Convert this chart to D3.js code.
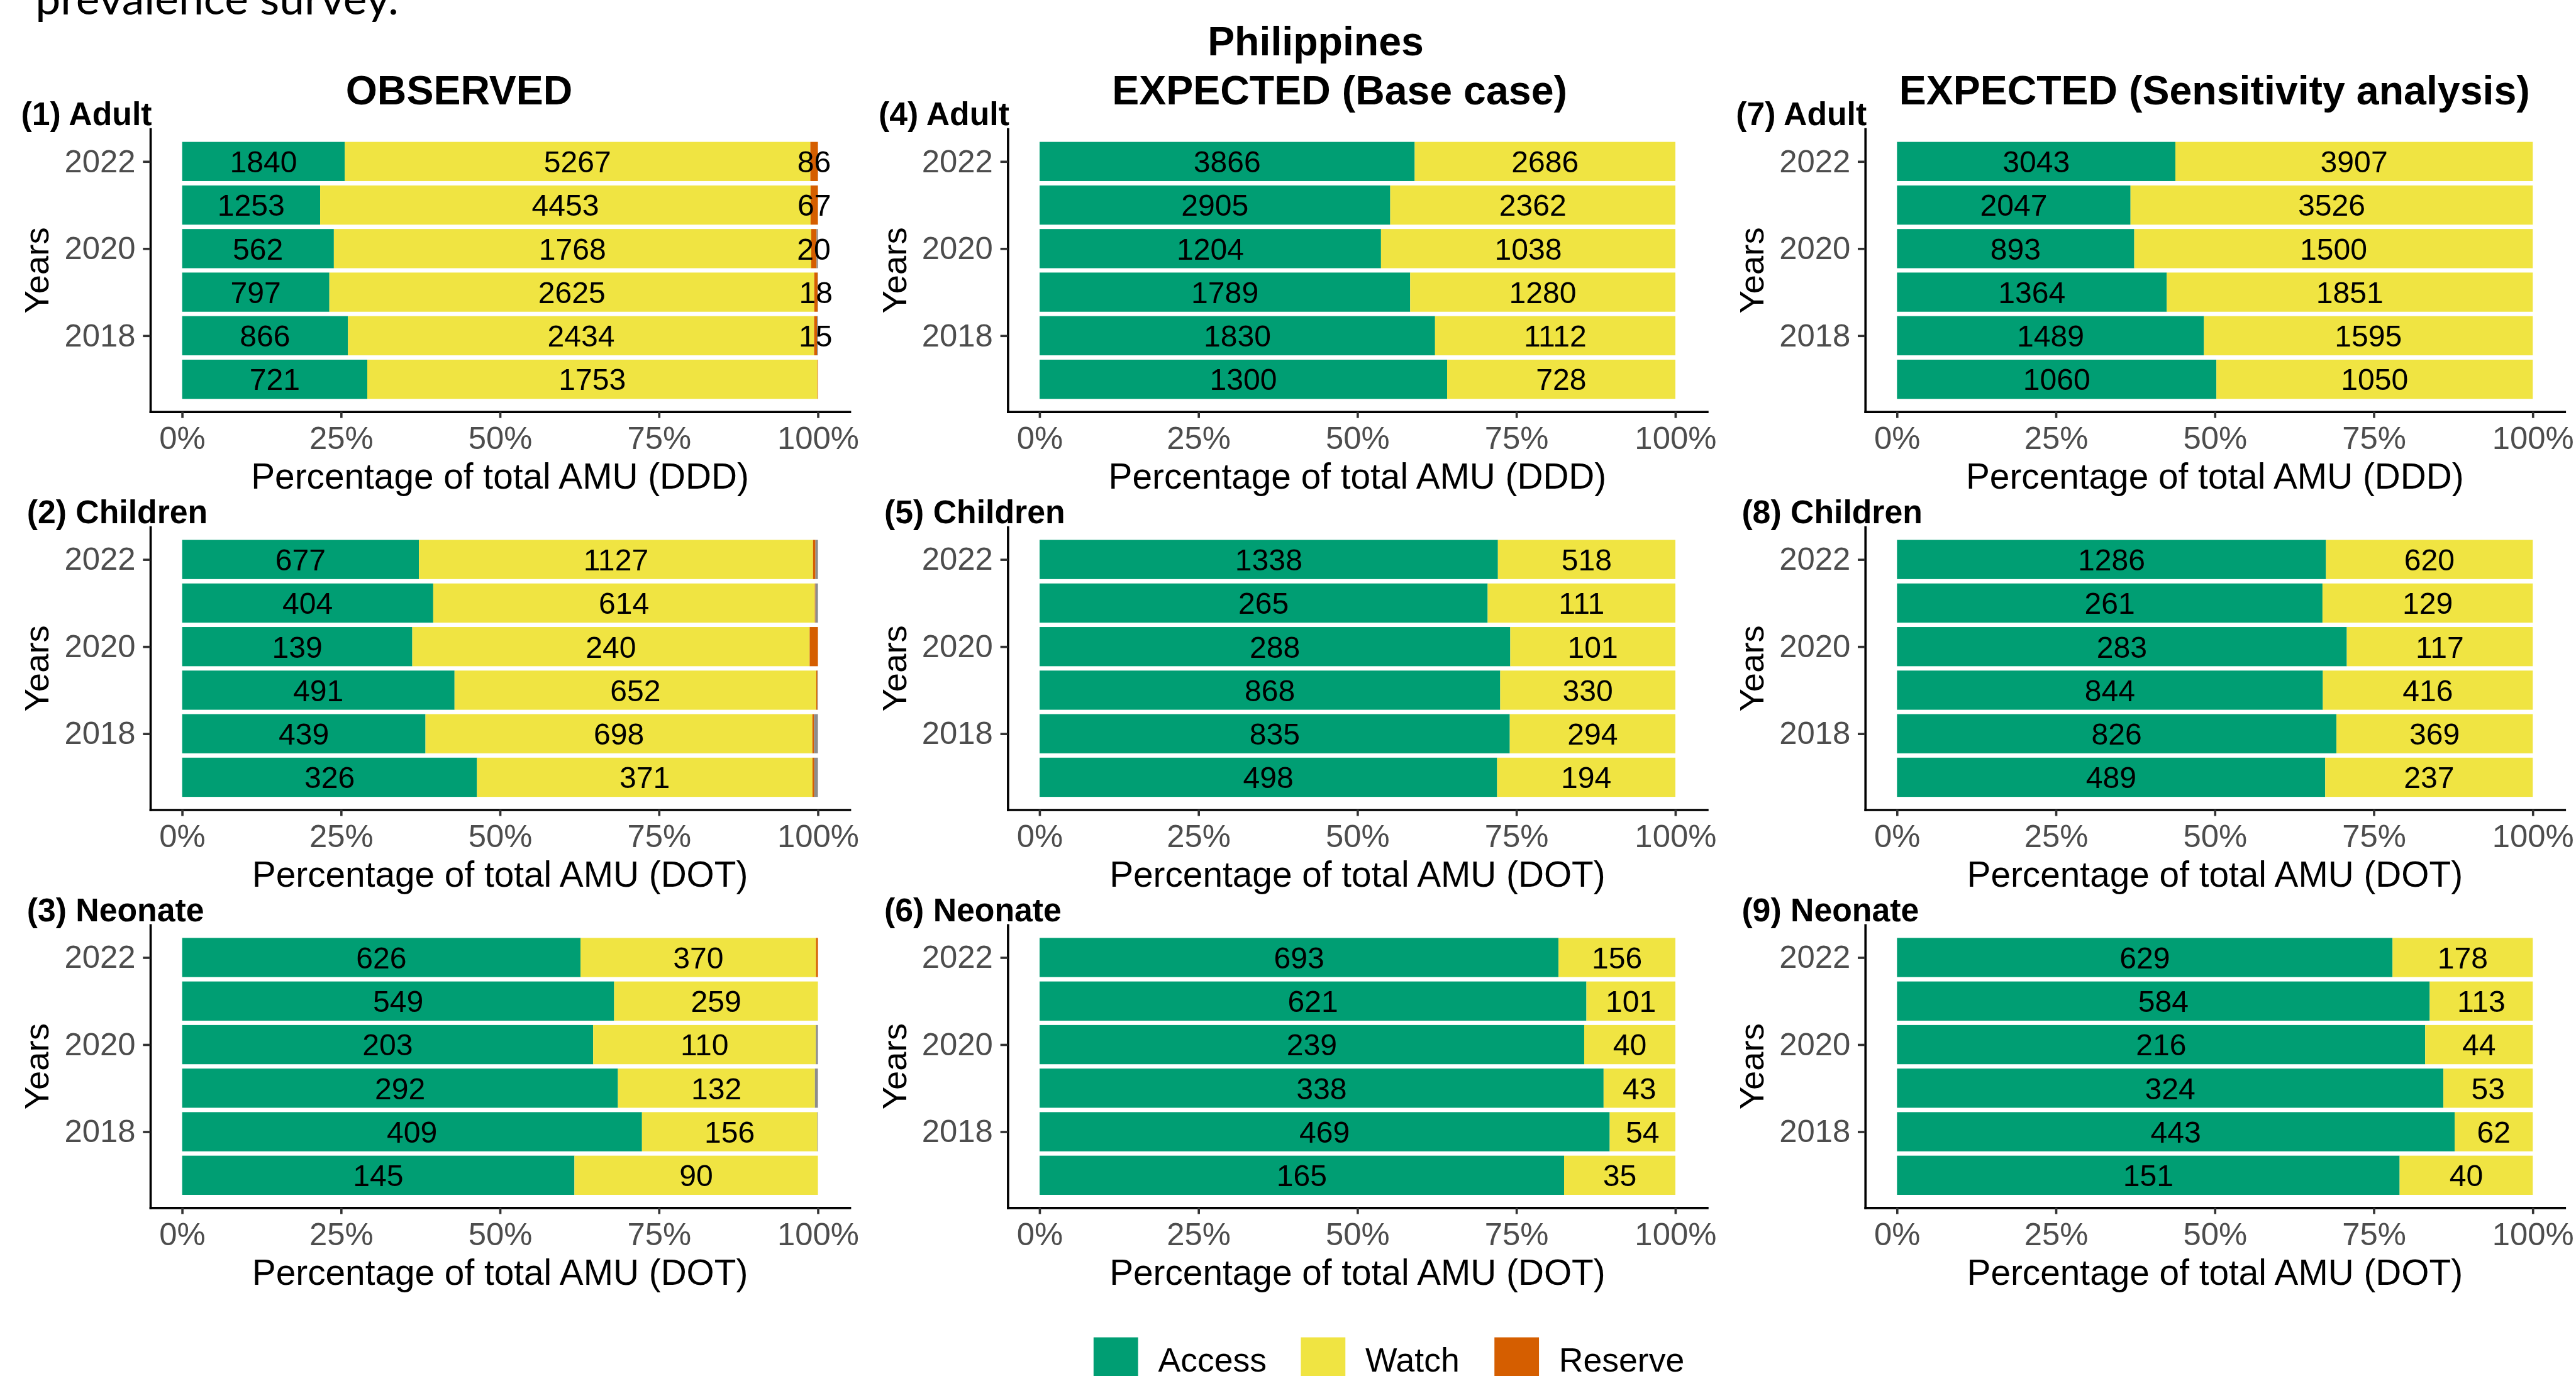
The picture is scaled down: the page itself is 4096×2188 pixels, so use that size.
<!DOCTYPE html>
<html>
<head>
<meta charset="utf-8">
<script src="https://cdn.jsdelivr.net/npm/d3@7"></script>
<style>
  body { margin: 0; background: #fff; }
  svg { display: block; }
  text { font-family: "Liberation Sans", Arial, Helvetica, sans-serif; }
</style>
</head>
<body>
<div id="chart"></div>
<script>
// years shown on every panel (top to bottom)
const years = [2022, 2021, 2020, 2019, 2018, 2017];
const yearTicks = [2018, 2020, 2022];
const percentTicks = [0, 0.25, 0.5, 0.75, 1];

// AWaRe groups and their colours (grey = unclassified, not in legend)
const groups = ['Access', 'Watch', 'Reserve', 'Other'];
const groupColours = ['#009E73', '#F0E442', '#D55E00', '#8C8C8C'];
const legendGroups = ['Access', 'Watch', 'Reserve'];

const columnTitles = ['OBSERVED', 'EXPECTED (Base case)', 'EXPECTED (Sensitivity analysis)'];
const panelTitles = ['(1) Adult', '(2) Children', '(3) Neonate',
    '(4) Adult', '(5) Children', '(6) Neonate',
    '(7) Adult', '(8) Children', '(9) Neonate'];
const axisUnits = ['DDD', 'DOT', 'DOT'];

// one list per panel, panels 1..9, years 2022..2017
const accessValues = [
    [1840, 1253, 562, 797, 866, 721],
    [677, 404, 139, 491, 439, 326],
    [626, 549, 203, 292, 409, 145],
    [3866, 2905, 1204, 1789, 1830, 1300],
    [1338, 265, 288, 868, 835, 498],
    [693, 621, 239, 338, 469, 165],
    [3043, 2047, 893, 1364, 1489, 1060],
    [1286, 261, 283, 844, 826, 489],
    [629, 584, 216, 324, 443, 151]
];
const watchValues = [
    [5267, 4453, 1768, 2625, 2434, 1753],
    [1127, 614, 240, 652, 698, 371],
    [370, 259, 110, 132, 156, 90],
    [2686, 2362, 1038, 1280, 1112, 728],
    [518, 111, 101, 330, 294, 194],
    [156, 101, 40, 43, 54, 35],
    [3907, 3526, 1500, 1851, 1595, 1050],
    [620, 129, 117, 416, 369, 237],
    [178, 113, 44, 53, 62, 40]
];
const reserveValues = [
    [86, 67, 20, 18, 15, 2],
    [7, 1, 5, 2, 3, 2],
    [3, 0, 0, 0, 0, 0],
    [0, 0, 0, 0, 0, 0],
    [0, 0, 0, 0, 0, 0],
    [0, 0, 0, 0, 0, 0],
    [0, 0, 0, 0, 0, 0],
    [0, 0, 0, 0, 0, 0],
    [0, 0, 0, 0, 0, 0]
];
const otherValues = [
    [0, 0, 5, 2, 5, 0],
    [7, 4, 0, 1, 7, 4],
    [0, 0, 1, 2, 0.5, 0],
    [0, 0, 0, 0, 0, 0],
    [0, 0, 0, 0, 0, 0],
    [0, 0, 0, 0, 0, 0],
    [0, 0, 0, 0, 0, 0],
    [0, 0, 0, 0, 0, 0],
    [0, 0, 0, 0, 0, 0]
];

// everything is laid out in the reference's pixel space, then scaled down
const scaleFactor = 0.908;
const colStep = 1501.5, rowStep = 697;
const colTitleX = [804, 2346, 3878];
const minLabel = 10;

const colour = d3.scaleOrdinal().domain(groups).range(groupColours);

const svg = d3.select('#chart').append('svg')
    .attr('width', 4096)
    .attr('height', 2188);

const root = svg.append('g')
    .attr('transform', `scale(${scaleFactor})`);

// caption text cut off at the top of the figure
root.append('text')
    .attr('x', 62)
    .attr('y', 25)
    .style('font-family', 'Lato, "Open Sans", sans-serif')
    .attr('font-size', 76)
    .attr('textLength', 636)
    .attr('lengthAdjust', 'spacingAndGlyphs')
    .attr('fill', '#000')
    .text('prevalence survey.');

// overall and column titles
root.append('text')
    .attr('x', 2304)
    .attr('y', 97)
    .attr('text-anchor', 'middle')
    .attr('font-size', 71)
    .attr('font-weight', 'bold')
    .text('Philippines');

root.selectAll('.col-title')
    .data(columnTitles)
    .join('text')
    .attr('class', 'col-title')
    .attr('x', (d, i) => colTitleX[i])
    .attr('y', 183)
    .attr('text-anchor', 'middle')
    .attr('font-size', 71)
    .attr('font-weight', 'bold')
    .text(d => d);

function drawPanel(p) {
    const col = Math.floor(p / 3);
    const row = p % 3;
    const ox = col * colStep;
    const oy = row * rowStep;

    // x in proportions (ggplot expands 5% each side), y in years
    const x = d3.scaleLinear().domain([-0.05, 1.05]).range([263.3 + ox, 1488 + ox]);
    const y = d3.scaleLinear().domain([2022.745, 2016.255]).range([226 + oy, 721 + oy]);
    const barH = Math.abs(y(0.9) - y(0));

    const rows = years.map((yr, i) => ({
        year: yr,
        Access: accessValues[p][i],
        Watch: watchValues[p][i],
        Reserve: reserveValues[p][i],
        Other: otherValues[p][i]
    }));

    const series = d3.stack()
        .keys(groups)
        .offset(d3.stackOffsetExpand)(rows);

    const g = root.append('g');

    // bars
    g.selectAll('g.layer')
        .data(series)
        .join('g')
        .attr('class', 'layer')
        .attr('fill', d => colour(d.key))
        .selectAll('rect')
        .data(d => d)
        .join('rect')
        .attr('x', d => x(d[0]))
        .attr('width', d => Math.max(0, x(d[1]) - x(d[0])))
        .attr('y', d => y(d.data.year) - barH / 2)
        .attr('height', barH);

    // value labels in the middle of each segment
    const labels = [];
    series.forEach(s => {
        if (s.key === 'Other') return;
        s.forEach(d => {
            const v = d.data[s.key];
            if (v >= minLabel) labels.push({ v, cx: x((d[0] + d[1]) / 2), cy: y(d.data.year) });
        });
    });
    g.selectAll('text.value')
        .data(labels)
        .join('text')
        .attr('class', 'value')
        .attr('x', d => d.cx)
        .attr('y', d => d.cy)
        .attr('dy', '0.36em')
        .attr('text-anchor', 'middle')
        .attr('font-size', 53)
        .attr('fill', '#000')
        .text(d => d.v);

    // x axis
    const xAxis = g.append('g')
        .attr('transform', `translate(0, ${y.range()[1]})`)
        .call(d3.axisBottom(x).tickValues(percentTicks).tickFormat(d3.format('.0%'))
            .tickSize(11).tickPadding(15).tickSizeOuter(0));
    styleAxis(xAxis);

    // y axis
    const yAxis = g.append('g')
        .attr('transform', `translate(${x.range()[0]}, 0)`)
        .call(d3.axisLeft(y).tickValues(yearTicks).tickFormat(d3.format('d'))
            .tickSize(13).tickPadding(13).tickSizeOuter(0));
    styleAxis(yAxis);

    // axis titles
    g.append('text')
        .attr('x', (x(0) + x(1)) / 2)
        .attr('y', 856 + oy)
        .attr('text-anchor', 'middle')
        .attr('font-size', 62.5)
        .attr('fill', '#000')
        .text(`Percentage of total AMU (${axisUnits[row]})`);

    g.append('text')
        .attr('transform', `translate(${85 + ox}, ${(y.range()[0] + y.range()[1]) / 2}) rotate(-90)`)
        .attr('text-anchor', 'middle')
        .attr('font-size', 60)
        .attr('fill', '#000')
        .text('Years');

    // panel title
    g.append('text')
        .attr('x', (row === 0 ? 37 : 47) + ox)
        .attr('y', 219 + oy)
        .attr('font-size', 57)
        .attr('font-weight', 'bold')
        .attr('fill', '#000')
        .text(panelTitles[p]);
}

function styleAxis(a) {
    a.attr('font-family', null).attr('font-size', null);
    a.select('.domain')
        .attr('stroke', '#000')
        .attr('stroke-width', 4)
        .attr('stroke-linecap', 'square');
    a.selectAll('.tick line')
        .attr('stroke', '#333')
        .attr('stroke-width', 4);
    a.selectAll('.tick text')
        .attr('fill', '#4D4D4D')
        .attr('font-size', 56);
}

d3.range(9).forEach(drawPanel);

// legend at the bottom, partly cut off as in the source figure
const legendX = [1915, 2278, 2617];
const legend = root.selectAll('.legend')
    .data(legendGroups)
    .join('g')
    .attr('class', 'legend')
    .attr('transform', (d, i) => `translate(${legendX[i]}, 2342)`);
legend.append('rect')
    .attr('width', 78)
    .attr('height', 78)
    .attr('fill', d => colour(d));
legend.append('text')
    .attr('x', 113)
    .attr('y', 60)
    .attr('font-size', 59)
    .attr('fill', '#000')
    .text(d => d);
</script>
</body>
</html>
